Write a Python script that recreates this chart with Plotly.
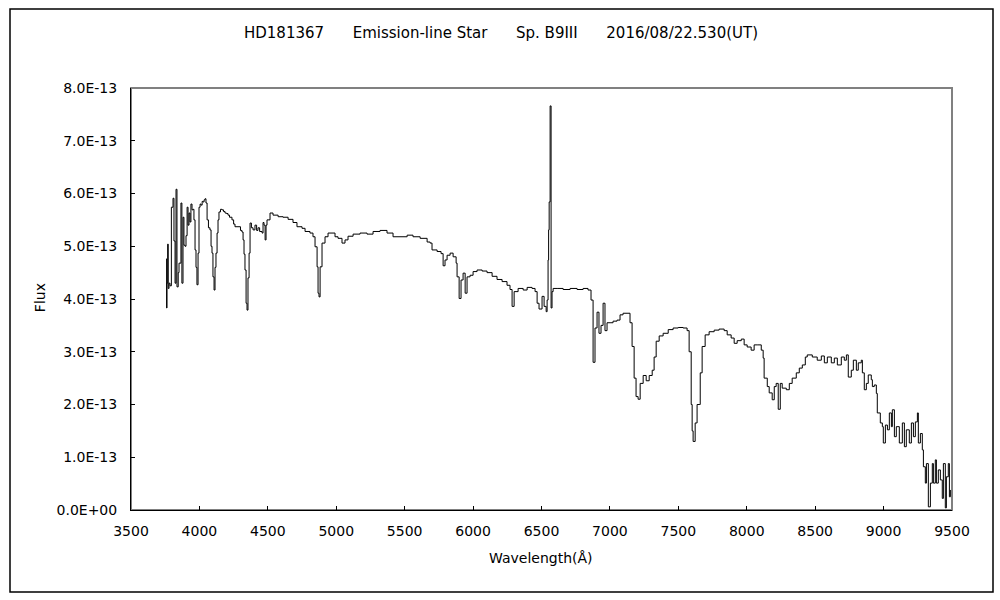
import plotly.graph_objects as go

# Wavelength (Angstrom) and flux (units of 1e-13)
wavelength = [
    3756, 3760, 3763, 3768, 3772, 3778, 3785, 3795, 3807, 3814, 3822, 3829, 3836, 3845, 3851, 3865,
    3872, 3880, 3887, 3895, 3902, 3910, 3917, 3924, 3931, 3938, 3946, 3953, 3960, 3968, 3975, 3982,
    3990, 3997, 4005, 4012, 4020, 4026, 4034, 4041, 4048, 4056, 4066, 4077, 4085, 4092, 4099, 4107,
    4114, 4121, 4129, 4136, 4143, 4154, 4165, 4176, 4187, 4198, 4209, 4220, 4238, 4250, 4260, 4282,
    4300, 4311, 4319, 4326, 4333, 4341, 4348, 4355, 4363, 4370, 4380, 4392, 4406, 4418, 4428, 4440,
    4458, 4465, 4472, 4480, 4487, 4494, 4516, 4538, 4575, 4611, 4648, 4684, 4713, 4750, 4772, 4808,
    4830, 4845, 4860, 4867, 4874, 4882, 4896, 4918, 4940, 4969, 4991, 5013, 5042, 5064, 5086, 5123,
    5174, 5225, 5269, 5320, 5371, 5415, 5466, 5518, 5561, 5613, 5664, 5686, 5700, 5737, 5766, 5781,
    5795, 5810, 5832, 5854, 5876, 5883, 5898, 5912, 5927, 5942, 5956, 5978, 6000, 6029, 6066, 6102,
    6139, 6175, 6212, 6248, 6270, 6285, 6300, 6329, 6366, 6395, 6431, 6453, 6468, 6482, 6504, 6519,
    6534, 6541, 6548, 6552, 6556, 6563, 6570, 6577, 6585, 6614, 6658, 6709, 6760, 6804, 6840, 6862,
    6877, 6891, 6906, 6920, 6935, 6950, 6964, 6979, 7001, 7023, 7052, 7074, 7096, 7125, 7147, 7162,
    7177, 7191, 7206, 7221, 7243, 7265, 7287, 7309, 7323, 7338, 7360, 7389, 7426, 7462, 7499, 7535,
    7564, 7579, 7594, 7601, 7608, 7623, 7637, 7652, 7660, 7674, 7696, 7725, 7762, 7798, 7835, 7857,
    7886, 7908, 7930, 7960, 7981, 8003, 8032, 8054, 8076, 8106, 8120, 8127, 8150, 8164, 8186, 8201,
    8215, 8230, 8245, 8259, 8289, 8311, 8332, 8362, 8384, 8406, 8428, 8442, 8479, 8515, 8545, 8567,
    8589, 8618, 8640, 8662, 8691, 8713, 8728, 8742, 8764, 8779, 8801, 8815, 8837, 8845, 8859, 8874,
    8888, 8910, 8918, 8932, 8947, 8954, 8976, 8991, 8998, 9013, 9028, 9042, 9057, 9064, 9079, 9093,
    9115, 9137, 9152, 9166, 9188, 9203, 9218, 9232, 9247, 9254, 9269, 9283, 9291, 9305, 9313, 9327,
    9342, 9356, 9364, 9378, 9386, 9400, 9415, 9429, 9437, 9451, 9459, 9473, 9481, 9488,
]
flux_e13 = [
    4.76, 3.83, 4.30, 5.04, 4.20, 4.30, 4.25, 5.74, 5.91, 5.10, 4.30, 6.08, 4.23, 4.50, 4.68, 5.82,
    4.30, 5.55, 5.02, 5.00, 5.20, 5.74, 5.40, 5.63, 5.46, 5.80, 5.69, 5.70, 5.50, 4.93, 4.60, 4.27,
    4.87, 5.74, 5.80, 5.78, 5.85, 5.84, 5.88, 5.90, 5.82, 5.50, 5.35, 5.31, 5.00, 4.87, 4.42, 4.17,
    4.60, 4.87, 5.25, 5.50, 5.65, 5.70, 5.69, 5.66, 5.63, 5.62, 5.59, 5.55, 5.50, 5.42, 5.37, 5.37,
    5.30, 5.27, 5.12, 4.85, 4.55, 3.92, 3.79, 4.40, 4.87, 5.44, 5.35, 5.31, 5.40, 5.30, 5.35, 5.28,
    5.25, 5.45, 5.40, 5.12, 5.40, 5.50, 5.63, 5.59, 5.56, 5.55, 5.51, 5.45, 5.37, 5.34, 5.28, 5.25,
    5.18, 4.99, 4.61, 4.11, 4.04, 4.61, 5.06, 5.18, 5.25, 5.25, 5.18, 5.15, 5.06, 5.12, 5.19, 5.23,
    5.25, 5.23, 5.28, 5.30, 5.25, 5.18, 5.18, 5.21, 5.18, 5.15, 5.08, 5.06, 4.93, 4.90, 4.86, 4.63,
    4.74, 4.83, 4.87, 4.80, 4.68, 4.42, 4.01, 4.36, 4.49, 4.11, 4.42, 4.45, 4.52, 4.55, 4.53, 4.50,
    4.43, 4.37, 4.33, 4.26, 4.18, 3.86, 4.14, 4.20, 4.17, 4.22, 4.20, 4.14, 3.92, 3.81, 4.05, 3.86,
    3.76, 3.98, 4.74, 5.31, 5.84, 7.66, 3.83, 4.14, 4.20, 4.20, 4.18, 4.20, 4.18, 4.20, 4.17, 3.98,
    2.80, 3.45, 3.75, 3.35, 3.50, 3.92, 3.40, 3.55, 3.55, 3.58, 3.60, 3.70, 3.73, 3.73, 3.55, 3.10,
    2.50, 2.15, 2.10, 2.40, 2.55, 2.45, 2.55, 2.65, 2.90, 3.20, 3.30, 3.35, 3.42, 3.45, 3.46, 3.45,
    3.40, 3.00, 2.00, 1.50, 1.30, 1.65, 2.00, 2.00, 2.60, 3.10, 3.32, 3.38, 3.41, 3.43, 3.40, 3.32,
    3.26, 3.16, 3.21, 3.24, 3.13, 3.09, 3.03, 3.13, 3.13, 3.03, 2.88, 2.50, 2.34, 2.22, 2.09, 2.34,
    2.40, 1.91, 2.40, 2.31, 2.28, 2.40, 2.50, 2.60, 2.69, 2.75, 2.90, 2.94, 2.90, 2.84, 2.92, 2.79,
    2.90, 2.79, 2.88, 2.75, 2.90, 2.84, 2.94, 2.52, 2.65, 2.84, 2.65, 2.79, 2.84, 2.60, 2.28, 2.40,
    2.56, 2.47, 2.34, 2.37, 2.21, 1.84, 1.65, 1.58, 1.27, 1.61, 1.52, 1.84, 1.58, 1.90, 1.39, 1.58,
    1.27, 1.65, 1.20, 1.52, 1.27, 1.65, 1.39, 1.67, 1.84, 1.27, 1.45, 1.14, 0.82, 0.51, 0.88, 0.06,
    0.51, 0.88, 0.51, 0.95, 0.51, 0.76, 0.57, 0.22, 0.88, 0.04, 0.63, 0.88, 0.25, 0.38,
]
flux = [v * 1e-13 for v in flux_e13]

x_ticks = [3500, 4000, 4500, 5000, 5500, 6000, 6500, 7000, 7500, 8000, 8500, 9000, 9500]
y_ticks = [i * 1e-13 for i in range(9)]
y_tick_text = ["0.0E+00", "1.0E-13", "2.0E-13", "3.0E-13", "4.0E-13",
               "5.0E-13", "6.0E-13", "7.0E-13", "8.0E-13"]

SP = "\u00a0" * 6
title_text = "HD181367" + SP + "Emission-line Star" + SP + "Sp. B9III" + SP + "2016/08/22.530(UT)"

FONT = "DejaVu Sans, Liberation Sans, sans-serif"

fig = go.Figure()
fig.add_trace(go.Scatter(
    x=wavelength, y=flux, mode="lines",
    line=dict(color="black", width=1, shape="hv"),
    showlegend=False, hoverinfo="skip",
))

fig.update_layout(
    width=1000, height=600,
    paper_bgcolor="white", plot_bgcolor="white",
    margin=dict(l=131, r=48, t=88, b=90),
    font=dict(family=FONT, size=14, color="black"),
    title=dict(text=title_text, x=0.501, xref="container", xanchor="center",
               y=1 - 33 / 600, yref="container", yanchor="middle",
               font=dict(family=FONT, size=15, color="black")),
    xaxis=dict(range=[3500, 9500], tickvals=x_ticks, ticktext=[str(v) for v in x_ticks],
               showgrid=False, zeroline=False, showline=True, linecolor="black", linewidth=1,
               ticks="inside", ticklen=4, tickcolor="black",
               tickfont=dict(family=FONT, size=14), ticklabelstandoff=8),
    yaxis=dict(range=[0, 8e-13], tickvals=y_ticks, ticktext=y_tick_text,
               showgrid=False, zeroline=False, showline=True, linecolor="black", linewidth=1,
               ticks="inside", ticklen=4, tickcolor="black",
               tickfont=dict(family=FONT, size=14), ticklabelstandoff=10),
    shapes=[
        # plot area frame (gray)
        dict(type="rect", xref="paper", yref="paper", x0=0, x1=1, y0=0, y1=1,
             line=dict(color="#808080", width=2), layer="below"),
        # outer chart border
        dict(type="rect", xref="paper", yref="paper",
             x0=(10 - 131) / 821, x1=(993 - 131) / 821,
             y0=(510 - 592) / 422, y1=(510 - 9) / 422,
             line=dict(color="black", width=1.5)),
    ],
    annotations=[
        dict(text="Flux", xref="paper", yref="paper", x=(40 - 131) / 821, y=0.502,
             textangle=-90, showarrow=False, xanchor="center", yanchor="middle",
             font=dict(family=FONT, size=14)),
        dict(text="Wavelength(Å)", xref="paper", yref="paper", x=(541 - 131) / 821,
             y=(510 - 558) / 422, showarrow=False, xanchor="center", yanchor="middle",
             font=dict(family=FONT, size=14)),
    ],
)

fig.write_html(
    "out.html",
    config={"displayModeBar": False},
    post_script="document.body.style.margin='0';document.body.style.overflow='hidden';",
)
